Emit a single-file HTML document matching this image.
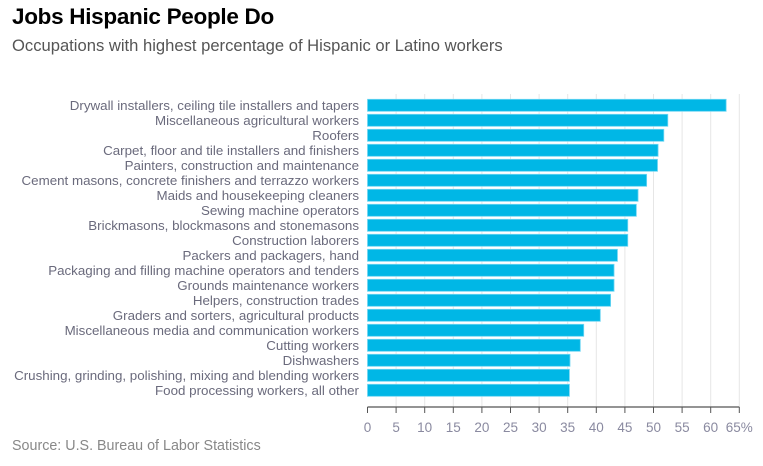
<!DOCTYPE html>
<html><head><meta charset="utf-8"><style>
body{margin:0;background:#fff;font-family:"Liberation Sans",sans-serif;}
#wrap{position:relative;width:763px;height:466px;overflow:hidden}
h1{position:absolute;left:12px;top:4px;margin:0;font-size:22.5px;font-weight:900;color:#000;letter-spacing:-0.3px}
.sub{position:absolute;left:12px;top:36px;font-size:16.6px;color:#555}
.src{position:absolute;left:12px;top:438px;font-size:14.3px;color:#888}
</style></head><body>
<div id="wrap">
<h1>Jobs Hispanic People Do</h1>
<div class="sub">Occupations with highest percentage of Hispanic or Latino workers</div>
<svg id="chart" width="763" height="466" style="position:absolute;left:0;top:0"></svg>
<div class="src">Source: U.S. Bureau of Labor Statistics</div>
</div>
<script>
const categories=["Drywall installers, ceiling tile installers and tapers","Miscellaneous agricultural workers","Roofers","Carpet, floor and tile installers and finishers","Painters, construction and maintenance","Cement masons, concrete finishers and terrazzo workers","Maids and housekeeping cleaners","Sewing machine operators","Brickmasons, blockmasons and stonemasons","Construction laborers","Packers and packagers, hand","Packaging and filling machine operators and tenders","Grounds maintenance workers","Helpers, construction trades","Graders and sorters, agricultural products","Miscellaneous media and communication workers","Cutting workers","Dishwashers","Crushing, grinding, polishing, mixing and blending workers","Food processing workers, all other"];
const values=[62.7,52.5,51.8,50.8,50.7,48.8,47.3,47.0,45.5,45.5,43.7,43.1,43.1,42.5,40.7,37.8,37.2,35.4,35.3,35.3];
const ticks=[0,5,10,15,20,25,30,35,40,45,50,55,60,65];
const svg=document.getElementById('chart');
const NS="http://www.w3.org/2000/svg";
const x0=367.5,x1=739.3,xmax=65,top0=99.3,pitch=15,bh=12,axisY=407;
function xs(v){return x0+(v/xmax)*(x1-x0);}
function ys(i){return top0+i*pitch;}
function mk(t,a){const e=document.createElementNS(NS,t);for(const k in a)e.setAttribute(k,a[k]);svg.appendChild(e);return e;}
ticks.forEach((t,i)=>{
  if(t>0){const g=mk('line',{x1:xs(t),x2:xs(t),y1:94,y2:axisY,stroke:'#e6e6e6','stroke-width':1});
  
  }
  const tk=mk('line',{x1:xs(t),x2:xs(t),y1:axisY,y2:axisY+6,stroke:'#555','stroke-width':1});
  
  
  const lb=mk('text',{x:xs(t),y:432,'text-anchor':'middle','font-size':13.5,fill:'#8a8aa0','font-family':'Liberation Sans, sans-serif'});
  lb.textContent=t+(i===ticks.length-1?'%':'');
  
  
});
categories.forEach((c,i)=>{
  const r=mk('rect',{x:x0,y:ys(i),width:xs(values[i])-x0,height:bh,fill:'#00b7e6',stroke:'#6fd6f3','stroke-width':0.8});
  
  
  const t=mk('text',{x:359,y:ys(i)+bh/2+4.7,'text-anchor':'end','font-size':13.35,fill:'#6a6a7c','font-family':'Liberation Sans, sans-serif'});
  t.textContent=c;
  
  
});
const ax=mk('line',{x1:x0,x2:x1,y1:axisY,y2:axisY,stroke:'#555','stroke-width':1.2});


</script>
</body></html>
